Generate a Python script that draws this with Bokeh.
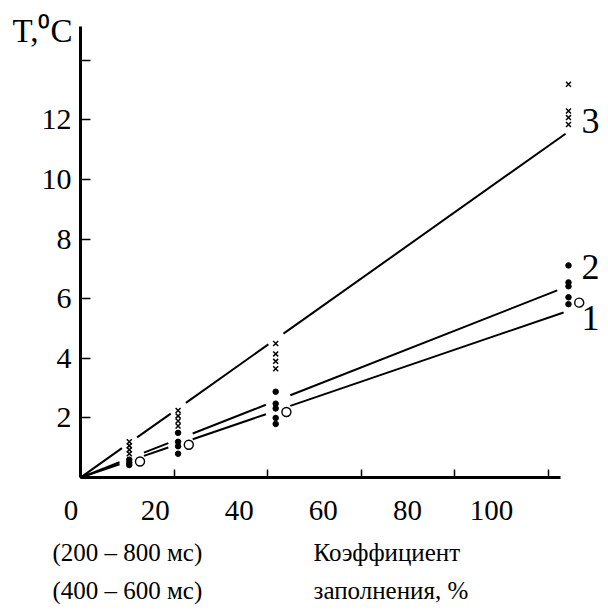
from bokeh.plotting import figure
from bokeh.models import Range1d, LinearAxis, FixedTicker
from bokeh.core.properties import value
from bokeh.transform import dodge
from bokeh.embed import file_html
from bokeh.resources import INLINE

# ---------------- data ----------------
columns = [10, 20, 40, 100]                      # duty factor, %
cross_T = [[1.20, 1.07, 0.93, 0.80],             # curve 3 (crosses)
           [2.25, 2.07, 1.90, 1.73],
           [4.50, 4.15, 3.90, 3.65],
           [13.2, 12.30, 12.08, 11.85]]
dot_T = [[0.60, 0.50, 0.42],                     # filled dots
         [1.50, 1.20, 1.05, 0.80],
         [2.88, 2.48, 2.32, 2.00, 1.80],
         [7.12, 6.55, 6.42, 6.05, 5.82]]
open_T = [0.54, 1.10, 2.20, 5.87]                # open circles
curve_names = ["1", "2", "3"]
curve_name_T = [5.34, 7.05, 11.98]
line_end_x = [99.0, 97.7, 99.4]
line_end_T = [5.54, 6.28, 11.54]
x_ticks = [20, 40, 60, 80, 100]
x_tick_labels = ["0", "20", "40", "60", "80", "100"]
x_tick_label_values = [0, 20, 40, 60, 80, 100]
y_ticks = [2, 4, 6, 8, 10, 12, 14]
y_tick_label_values = [2, 4, 6, 8, 10, 12]
y_tick_labels = ["2", "4", "6", "8", "10", "12"]
x_label_lines = ["(200 – 800 мс)", "(400 – 600 мс)"]
x_title_lines = ["Коэффициент", "заполнения, %"]
y_title = "T,⁰C"
x_max, y_max = 102.56, 15.13                      # axis extents

FONT = value("Liberation Serif")
W, H = 600, 604

p = figure(width=W, height=H,
           x_range=Range1d(-16.39, 106.56), y_range=Range1d(-4.26, 16.01),
           x_axis_location=None, y_axis_location=None,
           output_backend="svg", toolbar_location=None)
p.min_border = 0
p.grid.visible = False
p.outline_line_color = None
p.background_fill_color = "white"
p.extra_x_ranges = {"ticks": Range1d(-17.09, 111.11),
                    "labels": Range1d(-16.79, 125.93)}

common = dict(axis_line_width=3, axis_line_color="black",
              major_tick_out=0, major_tick_line_width=1.5,
              minor_tick_in=0, minor_tick_out=0, minor_tick_line_color=None,
              major_label_text_font_size="0px", major_label_text_color=None,
              major_label_standoff=0)
ax = LinearAxis(x_range_name="ticks", ticker=FixedTicker(ticks=x_ticks),
                fixed_location=0, bounds=(0, x_max), major_tick_in=8, **common)
p.add_layout(ax, "below")
ay = LinearAxis(ticker=FixedTicker(ticks=y_ticks), fixed_location=0,
                bounds=(0, y_max), major_tick_in=10, **common)
p.add_layout(ay, "left")

# tick labels
p.text(x=x_tick_label_values, y=[-1.11] * len(x_tick_labels), text=x_tick_labels,
       x_range_name="labels", text_font=FONT, text_font_size="29px",
       text_color="black", text_align="center", text_baseline="middle")
p.text(x=[-1.84] * len(y_tick_labels), y=y_tick_label_values, text=y_tick_labels,
       text_font=FONT, text_font_size="30px", text_color="black",
       text_align="right", text_baseline="middle")

# ---------------- fitted lines (broken near the measurement columns) ----------
gap_before = [2.0, 2.0, 1.5]
gap_after = [3.0, 3.0, 1.6]
xs, ys = [], []
for i in range(3):
    k = line_end_T[i] / line_end_x[i]
    stops = [0] + columns[:3] + [line_end_x[i]]
    for j in range(len(stops) - 1):
        a = stops[j] + (gap_after[i] if j > 0 else 0)
        b = stops[j + 1] - (gap_before[i] if j + 1 < len(stops) - 1 else 0)
        xs.append([a, b])
        ys.append([k * a, k * b])
p.multi_line(xs, ys, line_color="black", line_width=2)

# ---------------- markers ----------------
cx = [c for c, vals in zip(columns, cross_T) for _ in vals]
cy = [v for vals in cross_T for v in vals]
dx = [c for c, vals in zip(columns, dot_T) for _ in vals]
dy = [v for vals in dot_T for v in vals]

p.scatter(cx, cy, marker="x", size=7, line_color="black", line_width=1.5)
p.scatter(dx, dy, marker="circle", size=5.5, fill_color="black", line_color="black")
src = {"x": columns, "y": open_T}
p.scatter(x=dodge("x", 2.2, range=p.x_range), y="y", source=src,
          marker="circle", size=9, fill_color="white", line_color="black",
          line_width=1.4)

# ---------------- texts ----------------
p.text(x=[-13.93], y=[14.97], text=[y_title], text_font=FONT,
       text_font_size="33px", text_color="black",
       text_align="left", text_baseline="middle")
p.text(x=[106.35] * 3, y=curve_name_T, text=curve_names, text_font=FONT,
       text_font_size="36px", text_color="black",
       text_align="right", text_baseline="middle")
p.text(x=[-5.74] * 2, y=[-2.52, -3.79], text=x_label_lines, text_font=FONT,
       text_font_size="25px", text_color="black",
       text_align="left", text_baseline="middle")
p.text(x=[47.75] * 2, y=[-2.52, -3.79], text=x_title_lines, text_font=FONT,
       text_font_size="25px", text_color="black",
       text_align="left", text_baseline="middle")

open("out.html", "w").write(file_html(p, INLINE))
